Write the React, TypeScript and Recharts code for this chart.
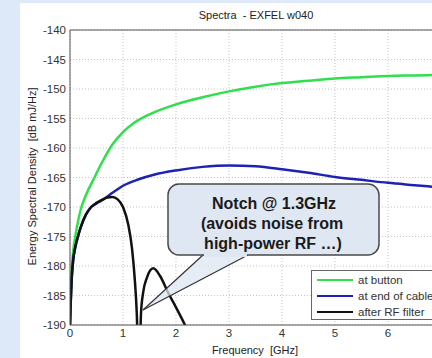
import { CartesianGrid, Legend, Line, LineChart, ReferenceLine, XAxis, YAxis } from "recharts"

// spectra (frequency in GHz, level in dB mJ/Hz)
const buttonFreq = [0, 0.01, 0.03, 0.06, 0.1, 0.15, 0.2, 0.3, 0.45, 0.6, 0.8, 1.0, 1.2, 1.5, 2.0, 2.5, 3.0, 3.5, 4.0, 4.5, 5.0, 5.5, 6.0, 6.5, 7.0]
const buttonDb = [-190, -186, -181, -177.5, -175, -172.5, -170.5, -168, -165.2, -162.5, -159.4, -157.3, -155.8, -154.3, -152.6, -151.4, -150.4, -149.6, -149.0, -148.6, -148.2, -148.0, -147.8, -147.7, -147.6]

const cableFreq = [0, 0.01, 0.03, 0.06, 0.1, 0.15, 0.2, 0.3, 0.4, 0.5, 0.6, 0.8, 1.0, 1.3, 1.6, 2.0, 2.5, 3.0, 3.5, 4.0, 4.5, 5.0, 5.5, 6.0, 6.5, 7.0]
const cableDb = [-190, -187, -182.5, -179, -176.8, -175, -173.5, -171.3, -170, -169.4, -168.9, -167.6, -166.4, -165.3, -164.5, -163.8, -163.2, -162.95, -163.1, -163.6, -164.2, -164.9, -165.4, -165.9, -166.3, -166.7]

const filterFreq = [0, 0.01, 0.03, 0.06, 0.1, 0.15, 0.2, 0.3, 0.4, 0.5, 0.6, 0.7, 0.8, 0.9, 1.0, 1.1, 1.17, 1.22, 1.26, 1.3, 1.34, 1.38, 1.45, 1.57, 1.7, 1.85, 2.0, 2.17, 2.3]
const filterDb = [-190, -187, -182.5, -179, -176.8, -175, -173.5, -171.3, -170, -169.3, -168.8, -168.4, -168.3, -168.7, -170, -173, -177, -182, -188, -200, -188, -184.5, -182, -180.4, -181.7, -184.5, -187, -190, -192.5]

const freqTicks = [0, 1, 2, 3, 4, 5, 6, 7]
const dbTicks = [-190, -185, -180, -175, -170, -165, -160, -155, -150, -145, -140]

const toPoints = (freq: number[], db: number[]) => freq.map((f, i) => ({ freq: f, db: db[i] }))

const series = [
  { name: "at button", color: "#2fe04c", data: toPoints(buttonFreq, buttonDb) },
  { name: "at end of cable", color: "#1d22b4", data: toPoints(cableFreq, cableDb) },
  { name: "after RF filter", color: "#111111", data: toPoints(filterFreq, filterDb) },
]

const font = '"Liberation Sans", Arial, sans-serif'

// legend box in the same order as the series (recharts would sort by name)
const LegendBox = () => (
  <div
    style={{
      width: 130,
      height: 50,
      background: "#fff",
      border: "1px solid #666",
      boxSizing: "border-box",
      paddingTop: 1,
      fontFamily: font,
    }}
  >
    {series.map((item) => (
      <div key={item.name} style={{ display: "flex", alignItems: "center", height: 16 }}>
        <div style={{ marginLeft: 5, width: 36, height: 2.5, background: item.color }} />
        <span style={{ marginLeft: 5, fontSize: 11.5, color: "#333", whiteSpace: "nowrap" }}>{item.name}</span>
      </div>
    ))}
  </div>
)

export default function App() {
  return (
    <div
      style={{
        position: "fixed",
        left: 0,
        top: 0,
        width: 432,
        height: 358,
        overflow: "hidden",
        background: "#dde8f8",
        fontFamily: font,
      }}
    >
      <div style={{ position: "absolute", left: 20, top: 3, width: 460, height: 400, background: "#fff" }} />
      <div style={{ position: "absolute", left: 0, top: 0 }}>
        <LineChart width={460} height={358} margin={{ top: 30, right: 19, left: 0, bottom: 0 }}>
          <CartesianGrid stroke="#c4c4c4" strokeDasharray="1 2" />
          <XAxis
            type="number"
            dataKey="freq"
            domain={[0, 7]}
            ticks={freqTicks}
            allowDataOverflow
            height={33}
            tickSize={0}
            tickMargin={4}
            axisLine={{ stroke: "#555" }}
            tick={{ fill: "#333", fontSize: 11.5, fontFamily: font }}
          />
          <YAxis
            type="number"
            domain={[-190, -140]}
            ticks={dbTicks}
            allowDataOverflow
            width={70}
            tickSize={0}
            tickMargin={4}
            axisLine={{ stroke: "#555" }}
            tick={{ fill: "#333", fontSize: 11.5, fontFamily: font }}
          />
          <ReferenceLine y={-140} stroke="#555" />
          {series.map((s) => (
            <Line
              key={s.name}
              data={s.data}
              dataKey="db"
              name={s.name}
              type="monotone"
              stroke={s.color}
              strokeWidth={2.5}
              dot={false}
              activeDot={false}
              isAnimationActive={false}
            />
          ))}
          <Legend
            layout="vertical"
            align="center"
            verticalAlign="middle"
            content={<LegendBox />}
            wrapperStyle={{ left: 311, top: 270, width: 130, height: 50 }}
          />
        </LineChart>
      </div>
      <svg width={432} height={358} style={{ position: "absolute", left: 0, top: 0, pointerEvents: "none" }}>
        <text x={256} y={19} textAnchor="middle" fontSize={11} fill="#222" fontFamily={font} style={{ whiteSpace: "pre" }}>
          Spectra  - EXFEL w040
        </text>
        <text x={255} y={354} textAnchor="middle" fontSize={11} fill="#222" fontFamily={font} style={{ whiteSpace: "pre" }}>
          Frequency  [GHz]
        </text>
        <text
          x={0}
          y={0}
          transform="translate(36 176.5) rotate(-90)"
          textAnchor="middle"
          fontSize={11}
          fill="#222"
          fontFamily={font}
          style={{ whiteSpace: "pre" }}
        >
          Energy Spectral Density  [dB mJ/Hz]
        </text>
        {/* callout pointing at the notch */}
        <polygon points="203,255 248,255 143,310" fill="#dfe7f2" fillOpacity={0.75} />
        <line x1={203} y1={255} x2={143} y2={310} stroke="#333" strokeWidth={1.2} />
        <line x1={248} y1={255} x2={143} y2={310} stroke="#333" strokeWidth={1.2} />
        <rect x={168} y={184} width={211} height={71} rx={11} fill="#dfe7f2" stroke="#4a4a4a" strokeWidth={1.5} />
        <rect x={204} y={253} width={43} height={4} fill="#dfe7f2" />
        <g fontFamily={font} fontWeight="bold" fontSize={16} fill="#1a1a1a" textAnchor="middle">
          <text x={274} y={209}>Notch @ 1.3GHz</text>
          <text x={272} y={229}>(avoids noise from</text>
          <text x={273} y={249}>high-power RF …)</text>
        </g>
      </svg>
    </div>
  )
}
